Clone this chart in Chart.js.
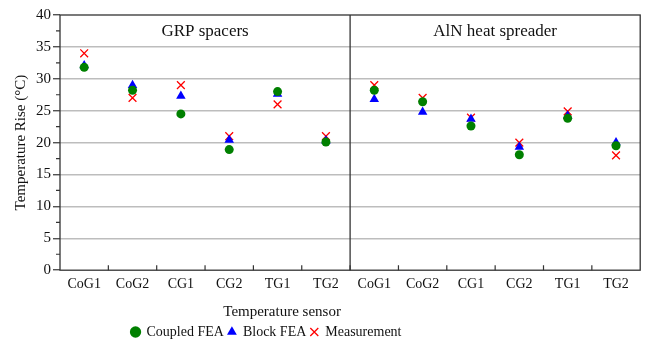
<!DOCTYPE html>
<html>
<head>
<meta charset="utf-8">
<script src="https://cdn.jsdelivr.net/npm/chart.js@4"></script>
<style>
  html, body { margin: 0; padding: 0; background: #fff; }
  #wrap { width: 647px; height: 343px; }
</style>
</head>
<body>
<div id="wrap"><canvas id="grafico"></canvas></div>
<script>
// sensores, duas configuracoes lado a lado
const sensores = ['CoG1', 'CoG2', 'CG1', 'CG2', 'TG1', 'TG2',
                  'CoG1', 'CoG2', 'CG1', 'CG2', 'TG1', 'TG2'];
const paineis = ['GRP spacers', 'AlN heat spreader'];
const tituloX = 'Temperature sensor';

const coupledFEA  = [31.8, 28.2, 24.5, 18.9, 28.0, 20.1,   28.2, 26.4, 22.6, 18.1, 23.8, 19.5];
const blockFEA    = [32.1, 29.0, 27.3, 20.4, 27.6, 20.3,   26.8, 24.8, 23.7, 19.3, 24.2, 20.0];
const measurement = [34.0, 27.0, 29.0, 21.0, 26.0, 21.0,   29.0, 27.0, 23.9, 20.0, 24.9, 18.0];

const yTicks = [0, 5, 10, 15, 20, 25, 30, 35, 40];

const fonte = "'Liberation Serif', 'Times New Roman', serif";
const escuro = '#333';
const desvioLegenda = -62;   // legenda e titulo do eixo x ficam deslocados para a esquerda
const desvioTituloX = -68;

const decoracao = {
    id: 'decoracao',
    afterLayout(chart){
        chart.legend.left += desvioLegenda;
        chart.legend.right += desvioLegenda;
    },
    afterDraw(chart){
        const {ctx, chartArea, scales} = chart;
        const {left, right, top, bottom} = chartArea;
        const x = scales.x, y = scales.y;
        ctx.save();
        ctx.strokeStyle = escuro;
        ctx.lineWidth = 1.3;
        ctx.strokeRect(left, top, right - left, bottom - top);

        // divisao entre os paineis
        const meio = x.getPixelForValue(5.5);
        ctx.beginPath();
        ctx.moveTo(meio, top);
        ctx.lineTo(meio, bottom);
        ctx.stroke();

        // ticks do eixo x nas fronteiras das categorias
        ctx.lineWidth = 1.2;
        ctx.beginPath();
        for(let i = 0; i < sensores.length - 1; i++){
            const px = x.getPixelForValue(i + 0.5);
            ctx.moveTo(px, bottom);
            ctx.lineTo(px, bottom - 5);
        }
        // ticks menores do eixo y
        for(let v = 2.5; v < 40; v += 5){
            const py = y.getPixelForValue(v);
            ctx.moveTo(left - 4, py);
            ctx.lineTo(left, py);
        }
        ctx.stroke();

        // titulos dos paineis
        ctx.fillStyle = '#111';
        ctx.font = '17px ' + fonte;
        ctx.textAlign = 'center';
        ctx.textBaseline = 'middle';
        ctx.fillText(paineis[0], (left + meio) / 2, top + 17);
        ctx.fillText(paineis[1], (meio + right) / 2, top + 17);

        // titulo do eixo x (o espaco e reservado pelo titulo transparente da escala)
        ctx.font = '15px ' + fonte;
        ctx.fillText(tituloX, (left + right) / 2 + desvioTituloX, x.bottom - 9);
        ctx.restore();
    }
};

function setupGrafico(chartId){
    const ctx = document.getElementById(chartId).getContext('2d');
    const data = {
        labels: sensores,
        datasets: [
            {
                label: 'Coupled FEA',
                data: coupledFEA,
                pointStyle: 'circle',
                pointRadius: 4.5,
                backgroundColor: '#008000',
                borderColor: '#008000',
                borderWidth: 0,
                showLine: false
            },
            {
                label: 'Block FEA',
                data: blockFEA,
                pointStyle: 'triangle',
                pointRadius: 5.5,
                backgroundColor: '#0000ff',
                borderColor: '#0000ff',
                borderWidth: 0,
                showLine: false
            },
            {
                label: 'Measurement',
                data: measurement,
                pointStyle: 'crossRot',
                pointRadius: 5.5,
                backgroundColor: '#ff0000',
                borderColor: '#ff0000',
                borderWidth: 1.3,
                showLine: false
            }
        ]
    };
    const options = {
        responsive: true,
        maintainAspectRatio: false,
        animation: false,
        layout: { padding: { left: 12, right: 2, top: 15, bottom: -6 } },
        plugins: {
            legend: {
                position: 'bottom',
                labels: {
                    usePointStyle: true,
                    boxWidth: 8,
                    boxHeight: 8,
                    padding: 4,
                    color: '#111',
                    font: { family: fonte, size: 14 }
                }
            },
            tooltip: { enabled: false }
        },
        scales: {
            x: {
                type: 'category',
                offset: true,
                grid: { display: false, drawTicks: false },
                border: { display: false },
                ticks: {
                    color: '#111',
                    font: { family: fonte, size: 14 },
                    padding: 6,
                    maxRotation: 0,
                    autoSkip: false
                },
                title: {
                    display: true,
                    text: tituloX,
                    color: 'rgba(0,0,0,0)',
                    font: { family: fonte, size: 15 },
                    padding: { top: 4, bottom: 0 }
                }
            },
            y: {
                min: 0,
                max: 40,
                afterBuildTicks: axis => { axis.ticks = yTicks.map(v => ({value: v})); },
                grid: {
                    color: ctx => (ctx.tick && (ctx.tick.value === 0 || ctx.tick.value === 40)) ? 'rgba(0,0,0,0)' : '#bdbdbd',
                    lineWidth: 1.5,
                    tickColor: escuro,
                    tickLength: 7,
                    tickWidth: 1.2
                },
                border: { display: false },
                ticks: {
                    color: '#111',
                    font: { family: fonte, size: 15 },
                    padding: 2
                },
                title: {
                    display: true,
                    text: 'Temperature Rise (°C)',
                    color: '#111',
                    font: { family: fonte, size: 15 },
                    padding: { top: 0, bottom: 4 }
                }
            }
        }
    };
    const config = {
        type: 'line',
        data: data,
        options: options,
        plugins: [decoracao]
    };
    return new Chart(ctx, config);
}

setupGrafico('grafico');
</script>
</body>
</html>
